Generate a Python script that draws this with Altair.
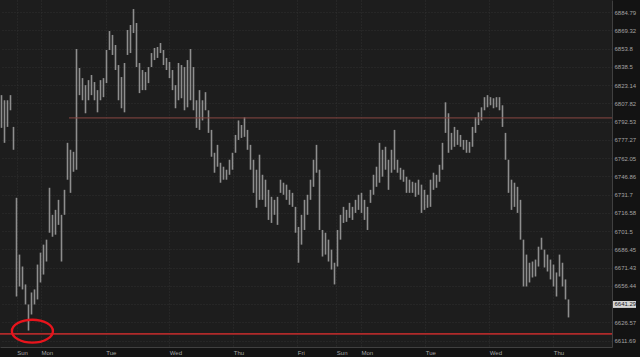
import json
import altair as alt
import pandas as pd

# ---- data ----
highs = [6814.7, 6810.4, 6810.4, 6814.7, 6788.1, 6729.1, 6682.2, 6672.4, 6657.7, 6641.3,
         6651.1, 6653.6, 6674.0, 6683.8, 6690.4, 6694.5, 6737.4, 6715.0, 6719.1, 6727.4,
         6715.0, 6735.7, 6774.8, 6769.0, 6767.3, 6853.5, 6837.5, 6829.0, 6823.1, 6827.3,
         6831.6, 6825.7, 6818.9, 6827.3, 6829.0, 6852.7, 6868.7, 6865.4, 6856.9, 6840.0,
         6829.9, 6841.7, 6869.6, 6873.8, 6887.3, 6875.5, 6841.7, 6835.8, 6834.1, 6838.3,
         6850.1, 6854.4, 6855.2, 6858.6, 6852.7, 6846.0, 6842.6, 6835.8, 6823.1, 6841.7,
         6840.0, 6838.3, 6844.2, 6853.5, 6838.3, 6810.4, 6818.9, 6810.4, 6817.2, 6802.0,
         6785.6, 6766.5, 6773.1, 6758.2, 6754.9, 6752.4, 6760.7, 6766.5, 6781.4, 6793.5,
         6789.7, 6796.1, 6785.6, 6773.1, 6760.7, 6752.4, 6764.9, 6748.2, 6744.1, 6735.7,
         6729.9, 6727.4, 6729.9, 6744.1, 6741.6, 6740.0, 6735.7, 6733.2, 6721.6, 6705.0,
         6715.0, 6727.4, 6731.6, 6744.1, 6760.7, 6773.1, 6752.4, 6702.5, 6700.2, 6694.5,
         6686.3, 6675.5, 6702.5, 6715.0, 6721.6, 6719.1, 6724.9, 6721.6, 6727.4, 6731.6,
         6733.2, 6727.4, 6721.6, 6735.7, 6748.2, 6754.9, 6774.8, 6769.0, 6771.5, 6760.7,
         6769.0, 6785.6, 6760.7, 6754.0, 6752.4, 6746.6, 6744.1, 6742.4, 6741.6, 6744.1,
         6740.0, 6735.7, 6731.6, 6744.1, 6749.9, 6748.2, 6756.5, 6774.8, 6808.7, 6799.5,
         6783.1, 6788.1, 6785.6, 6781.4, 6777.2, 6777.2, 6775.6, 6788.1, 6796.1, 6800.3,
         6804.5, 6813.0, 6814.7, 6813.0, 6812.1, 6813.0, 6813.0, 6806.2, 6783.1, 6760.7,
         6744.1, 6741.6, 6738.2, 6727.4, 6694.5, 6682.2, 6675.5, 6676.5, 6678.1, 6688.7,
         6696.1, 6686.3, 6682.2, 6678.1, 6674.0, 6667.5, 6682.2, 6675.5, 6661.8, 6645.4]

lows = [6787.3, 6774.8, 6788.1, 6802.0, 6769.0, 6647.8, 6656.0, 6653.6, 6641.3, 6620.0,
        6633.1, 6641.3, 6645.4, 6659.3, 6665.8, 6676.5, 6700.2, 6696.9, 6698.6, 6706.7,
        6676.5, 6715.0, 6744.1, 6733.2, 6750.7, 6752.4, 6814.7, 6810.4, 6799.5, 6810.4,
        6814.7, 6810.4, 6800.3, 6810.4, 6813.0, 6824.8, 6852.7, 6848.5, 6835.8, 6810.4,
        6803.7, 6800.3, 6848.5, 6850.1, 6867.0, 6838.3, 6816.4, 6818.9, 6818.9, 6824.8,
        6838.3, 6844.2, 6846.0, 6850.1, 6840.0, 6835.8, 6829.0, 6818.9, 6803.7, 6810.4,
        6812.1, 6802.0, 6804.5, 6810.4, 6802.0, 6787.3, 6785.6, 6793.5, 6802.0, 6783.1,
        6763.2, 6749.9, 6754.9, 6741.6, 6744.1, 6744.1, 6748.2, 6752.4, 6766.5, 6777.2,
        6778.9, 6779.8, 6769.0, 6752.4, 6733.2, 6720.8, 6727.4, 6727.4, 6721.6, 6710.8,
        6708.3, 6715.0, 6706.7, 6733.2, 6731.6, 6727.4, 6723.3, 6721.6, 6700.2, 6675.5,
        6690.4, 6702.5, 6715.0, 6727.4, 6738.2, 6749.9, 6702.5, 6680.6, 6682.2, 6676.5,
        6669.9, 6657.7, 6672.4, 6694.5, 6708.3, 6709.2, 6712.5, 6710.8, 6716.6, 6719.1,
        6716.6, 6710.8, 6702.5, 6724.9, 6731.6, 6738.2, 6741.6, 6746.6, 6752.4, 6735.7,
        6749.9, 6752.4, 6749.9, 6744.1, 6742.4, 6733.2, 6733.2, 6733.2, 6729.9, 6731.6,
        6716.6, 6719.1, 6720.8, 6721.6, 6735.7, 6737.4, 6742.4, 6752.4, 6783.1, 6766.5,
        6769.0, 6771.5, 6773.1, 6771.5, 6769.0, 6766.5, 6766.5, 6771.5, 6783.1, 6789.7,
        6793.5, 6802.0, 6804.5, 6806.2, 6803.7, 6804.5, 6802.0, 6788.1, 6760.7, 6733.2,
        6719.1, 6721.6, 6716.6, 6694.5, 6656.0, 6656.0, 6659.3, 6663.4, 6664.2, 6672.4,
        6686.3, 6671.6, 6668.3, 6661.8, 6656.0, 6647.8, 6664.2, 6656.0, 6645.4, 6630.7]

day_ticks = [5.07, 13.17, 34.73, 55.93, 77.27, 98.6, 111.6, 119.83, 141.27, 162.6, 183.93]
day_labels = ["Sun", "Mon", "Tue", "Wed", "Thu", "Fri", "Sun", "Mon", "Tue", "Wed", "Thu"]
price_ticks = [6884.79, 6869.32, 6853.8, 6838.5, 6823.14, 6807.82, 6792.53, 6777.27,
               6762.05, 6746.86, 6731.7, 6716.58, 6701.5, 6686.45, 6671.43, 6656.44,
               6641.29, 6626.57, 6611.69]
last_price = 6641.29
support_level = 6617.3
resistance_level = 6795.6
resistance_span = [22.5, 203.5]
low_marker_t = 10.3
low_marker_p = 6619.5
x_domain = [-0.5, 203.5]
y_domain = [6606.6, 6895.0]

FONT = "Liberation Sans"
LABEL_COLOR = "#a3a3a3"
GRID_COLOR = "#303030"
DOMAIN_COLOR = "#404040"

bars = pd.DataFrame({"t": list(range(len(highs))), "hi": highs, "lo": lows})

x_label_expr = "{}[indexof({}, datum.value)]".format(json.dumps(day_labels), json.dumps(day_ticks))
y_label_expr = "datum.value == {} ? '' : '' + datum.value".format(last_price)

x_scale = alt.Scale(domain=x_domain, nice=False, zero=False)
y_scale = alt.Scale(type="log", domain=y_domain, nice=False, zero=False)

x_axis = alt.Axis(orient="bottom", values=day_ticks, labelExpr=x_label_expr, title=None,
                  labelAlign="left", labelPadding=2, ticks=False, grid=True,
                  gridColor=GRID_COLOR, gridDash=[1, 2], domainColor=DOMAIN_COLOR,
                  labelFontSize=6, labelColor=LABEL_COLOR, labelFont=FONT,
                  labelOverlap=False, labelFlush=False)
y_axis = alt.Axis(orient="right", values=price_ticks, labelExpr=y_label_expr, title=None,
                  labelAlign="left", labelPadding=2, ticks=False, grid=True,
                  gridColor=GRID_COLOR, gridDash=[1, 2], domainColor=DOMAIN_COLOR,
                  labelFontSize=6, labelColor=LABEL_COLOR, labelFont=FONT,
                  labelOverlap=False, labelFlush=False)

bar_layer = alt.Chart(bars).mark_rule(color="#8e8e8e", strokeWidth=1.6).encode(
    x=alt.X("t:Q", scale=x_scale, axis=x_axis),
    y=alt.Y("lo:Q", scale=y_scale, axis=y_axis),
    y2="hi:Q",
)

support = alt.Chart(pd.DataFrame({"p": [support_level]})).mark_rule(
    color="#b02a2a", strokeWidth=1.6).encode(y=alt.Y("p:Q", title=None))

resistance = alt.Chart(pd.DataFrame({"t0": [resistance_span[0]], "t1": [resistance_span[1]],
                                     "p": [resistance_level]})).mark_rule(
    color="#8a4842", strokeWidth=1).encode(
    x=alt.X("t0:Q", title=None), x2="t1:Q", y=alt.Y("p:Q", title=None))

ellipse_path = "M-1,0A1,0.56,0,1,1,1,0A1,0.56,0,1,1,-1,0Z"
marker = alt.Chart(pd.DataFrame({"t": [low_marker_t], "p": [low_marker_p]})).mark_point(
    shape=ellipse_path, size=1681, filled=False, stroke="#e8141c", strokeWidth=2.4,
    opacity=1).encode(x=alt.X("t:Q", title=None), y=alt.Y("p:Q", title=None))

box_path = "M-1,-0.3L1,-0.3L1,0.3L-1,0.3Z"
price_box = alt.Chart(pd.DataFrame({"p": [last_price]})).mark_point(
    shape=box_path, size=529, filled=True, color="#d6d6d6", opacity=1).encode(
    x=alt.value(624.5), y=alt.Y("p:Q", title=None))
price_text = alt.Chart(pd.DataFrame({"p": [last_price], "label": [f"{last_price:.2f}"]})).mark_text(
    align="left", baseline="middle", fontSize=6, color="#1a1a1a", font=FONT).encode(
    x=alt.value(614.5), y=alt.Y("p:Q", title=None), text="label:N")

chart = alt.layer(bar_layer, resistance, support, marker, price_box, price_text).properties(
    width=612, height=347, autosize="none",
    padding={"left": 0, "top": 0, "right": 28, "bottom": 10},
    background="#131313",
).configure_view(fill="#1d1d1d", stroke=None)

chart.save("out.html", embed_options={"renderer": "svg", "actions": False})
